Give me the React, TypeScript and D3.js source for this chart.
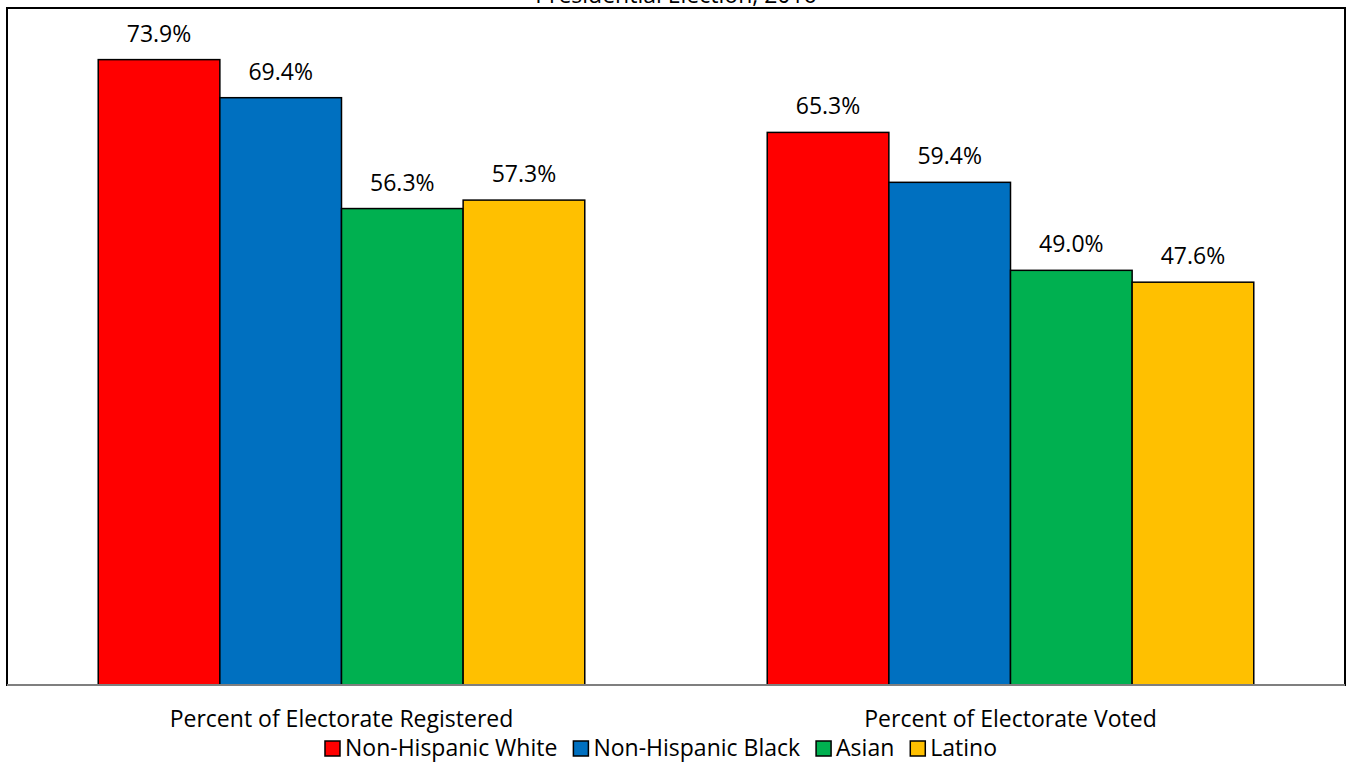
import React, { useEffect, useRef } from "react";
import * as d3 from "d3";

const titleText = "Presidential Election, 2016";
const categories = ["Percent of Electorate Registered", "Percent of Electorate Voted"];
const seriesNames = ["Non-Hispanic White", "Non-Hispanic Black", "Asian", "Latino"];
const seriesColors = ["#FF0000", "#0070C0", "#00B050", "#FFC000"];
const registered = [73.9, 69.4, 56.3, 57.3];
const voted = [65.3, 59.4, 49.0, 47.6];
const seriesValues = [registered, voted];

const W = 1348;
const H = 763;
const FONT = "'Open Sans', sans-serif";
const FS = 23;

export default function App() {
  const ref = useRef<SVGSVGElement>(null);

  useEffect(() => {
    const svg = d3.select(ref.current);
    svg.selectAll("*").remove();

    const left = 7, right = 1345, top = 8, bottom = 685;

    const x0 = d3.scaleBand<string>()
      .domain(categories)
      .range([left, right])
      .paddingInner(1.5 / 5.5)
      .paddingOuter(0.75 / 5.5);
    const x1 = d3.scaleBand<string>()
      .domain(seriesNames)
      .range([0, x0.bandwidth()])
      .padding(0);
    const y = d3.scaleLinear().domain([0, 80]).range([bottom, top]);

    // title (clipped at top, as in the reference)
    svg.append("text")
      .attr("x", (left + right) / 2)
      .attr("y", 3)
      .attr("text-anchor", "middle")
      .attr("font-family", FONT)
      .attr("font-size", FS)
      .attr("fill", "#000")
      .text(titleText);

    // frame
    svg.append("rect")
      .attr("x", left)
      .attr("y", top)
      .attr("width", right - left)
      .attr("height", bottom - top)
      .attr("fill", "#fff")
      .attr("stroke", "#000")
      .attr("stroke-width", 2);

    const groups = svg.selectAll("g.cat")
      .data(categories)
      .enter()
      .append("g")
      .attr("class", "cat")
      .attr("transform", (d) => `translate(${x0(d)},0)`);

    groups.each(function (cat, ci) {
      const g = d3.select(this);
      const vals = seriesValues[ci];
      g.selectAll("rect.bar")
        .data(seriesNames)
        .enter()
        .append("rect")
        .attr("class", "bar")
        .attr("x", (s) => x1(s)!)
        .attr("y", (_s, i) => y(vals[i]))
        .attr("width", x1.bandwidth())
        .attr("height", (_s, i) => bottom - y(vals[i]))
        .attr("fill", (_s, i) => seriesColors[i])
        .attr("stroke", "#000")
        .attr("stroke-width", 1.5);
      g.selectAll("text.lbl")
        .data(seriesNames)
        .enter()
        .append("text")
        .attr("class", "lbl")
        .attr("x", (s) => x1(s)! + x1.bandwidth() / 2)
        .attr("y", (_s, i) => y(vals[i]) - 18)
        .attr("text-anchor", "middle")
        .attr("font-family", FONT)
        .attr("font-size", FS)
        .attr("fill", "#000")
        .text((_s, i) => vals[i].toFixed(1) + "%");
    });

    // axis line
    svg.append("line")
      .attr("x1", left)
      .attr("x2", right)
      .attr("y1", bottom)
      .attr("y2", bottom)
      .attr("stroke", "#7f7f7f")
      .attr("stroke-width", 2);

    // category labels
    svg.selectAll("text.catlbl")
      .data(categories)
      .enter()
      .append("text")
      .attr("class", "catlbl")
      .attr("x", (d) => x0(d)! + x0.bandwidth() / 2)
      .attr("y", 727)
      .attr("text-anchor", "middle")
      .attr("font-family", FONT)
      .attr("font-size", FS)
      .attr("fill", "#000")
      .text((d) => d);

    // legend
    const legend = svg.append("g");
    const sq = 15, gapTxt = 5, gapItem = 16;
    let cx = 0;
    seriesNames.forEach((s, i) => {
      const item = legend.append("g").attr("transform", `translate(${cx},0)`);
      item.append("rect")
        .attr("x", 0)
        .attr("y", 741)
        .attr("width", sq)
        .attr("height", sq)
        .attr("fill", seriesColors[i])
        .attr("stroke", "#000")
        .attr("stroke-width", 1.5);
      const t = item.append("text")
        .attr("x", sq + gapTxt)
        .attr("y", 756)
        .attr("font-family", FONT)
        .attr("font-size", FS)
        .attr("fill", "#000")
        .text(s);
      const tw = (t.node() as SVGTextElement).getComputedTextLength();
      cx += sq + gapTxt + tw + gapItem;
    });
    const total = cx - gapItem;
    legend.attr("transform", `translate(${661 - total / 2},0)`);
  }, []);

  return (
    <svg
      ref={ref}
      width={W}
      height={H}
      style={{ position: "fixed", left: 0, top: 0, background: "#fff" }}
    />
  );
}
